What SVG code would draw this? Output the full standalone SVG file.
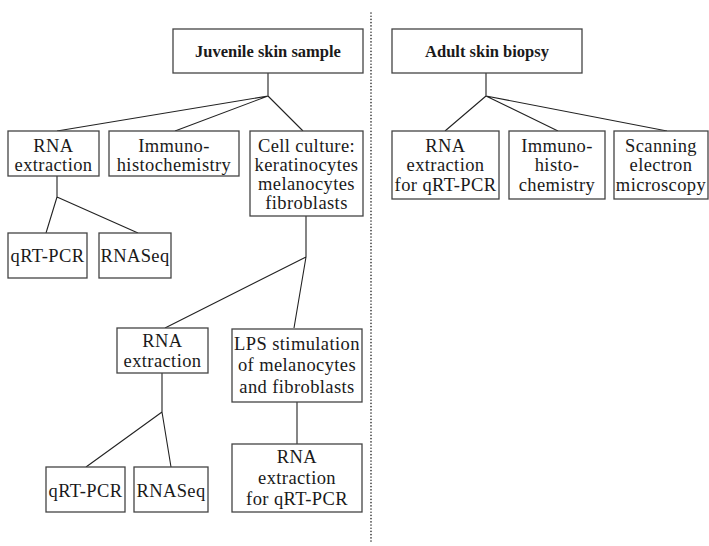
<svg xmlns="http://www.w3.org/2000/svg" width="709" height="546" viewBox="0 0 709 546">
<style>
.box{fill:#fff;stroke:#444;stroke-width:1.3}
.t{font-family:'Liberation Serif',Tinos,'Times New Roman','DejaVu Serif',serif;font-size:18.5px;letter-spacing:0.4px;fill:#1a1a1a;text-anchor:middle}
.b{font-family:'Liberation Serif',Tinos,'Times New Roman','DejaVu Serif',serif;font-size:16.5px;font-weight:bold;fill:#1a1a1a;text-anchor:middle}
.c{stroke:#222;stroke-width:1.1;fill:none}
.sep{stroke:#333;stroke-width:1.6;stroke-linecap:round;stroke-dasharray:0.1 3.1}
</style>
<rect width="709" height="546" fill="#fff"/>
<line class="sep" x1="371" y1="13" x2="371" y2="543"/>
<g id="connectors">
<path class="c" d="M268,73V96M268,96L57,131M268,96L175,131M268,96L303,131"/>
<path class="c" d="M486,73V96M486,96L445,131M486,96L558,131M486,96L667,131"/>
<path class="c" d="M57,176V197M57,197L46,233M57,197L138,233"/>
<path class="c" d="M306,216V257M306,257L165,328M306,257L294,328"/>
<path class="c" d="M162,373V412M162,412L86,467M162,412L171,467"/>
<path class="c" d="M297,402V444"/>
</g>
<g id="juvenile"><rect class="box" x="173" y="29" width="190" height="44"/><text class="b" x="268" y="57">Juvenile skin sample</text></g>
<g id="adult"><rect class="box" x="392" y="29" width="190" height="44"/><text class="b" x="487" y="57">Adult skin biopsy</text></g>
<g id="rna1"><rect class="box" x="8" y="131" width="91" height="45"/><text class="t" x="53.5" y="152">RNA</text><text class="t" x="53.5" y="171">extraction</text></g>
<g id="immuno1"><rect class="box" x="109" y="131" width="130" height="45"/><text class="t" x="174" y="152">Immuno-</text><text class="t" x="174" y="171">histochemistry</text></g>
<g id="cell"><rect class="box" x="250" y="131" width="113" height="85"/><text class="t" x="306.5" y="152">Cell culture:</text><text class="t" x="306.5" y="171">keratinocytes</text><text class="t" x="306.5" y="190">melanocytes</text><text class="t" x="306.5" y="209">fibroblasts</text></g>
<g id="adultrna"><rect class="box" x="392" y="131" width="107" height="68"/><text class="t" x="445.5" y="152">RNA</text><text class="t" x="445.5" y="171">extraction</text><text class="t" x="445.5" y="191">for qRT-PCR</text></g>
<g id="adultimmuno"><rect class="box" x="509" y="131" width="96" height="68"/><text class="t" x="557" y="152">Immuno-</text><text class="t" x="557" y="171">histo-</text><text class="t" x="557" y="191">chemistry</text></g>
<g id="sem"><rect class="box" x="614" y="131" width="94" height="68"/><text class="t" x="661" y="152">Scanning</text><text class="t" x="661" y="171">electron</text><text class="t" x="661" y="191">microscopy</text></g>
<g id="qrt1"><rect class="box" x="8" y="233" width="79" height="45"/><text class="t" x="47.5" y="262">qRT-PCR</text></g>
<g id="seq1"><rect class="box" x="99" y="233" width="72" height="45"/><text class="t" x="135" y="262">RNASeq</text></g>
<g id="rna2"><rect class="box" x="117" y="328" width="91" height="45"/><text class="t" x="162.5" y="347">RNA</text><text class="t" x="162.5" y="366.5">extraction</text></g>
<g id="lps"><rect class="box" x="232" y="329" width="130" height="73"/><text class="t" x="297" y="350">LPS stimulation</text><text class="t" x="297" y="371">of melanocytes</text><text class="t" x="297" y="392.5">and fibroblasts</text></g>
<g id="qrt2"><rect class="box" x="46" y="467" width="79" height="45"/><text class="t" x="85.5" y="496.5">qRT-PCR</text></g>
<g id="seq2"><rect class="box" x="134" y="467" width="74" height="45"/><text class="t" x="171" y="496.5">RNASeq</text></g>
<g id="rna3"><rect class="box" x="232" y="444" width="130" height="68"/><text class="t" x="297" y="463">RNA</text><text class="t" x="297" y="483.5">extraction</text><text class="t" x="297" y="505">for qRT-PCR</text></g>
</svg>
